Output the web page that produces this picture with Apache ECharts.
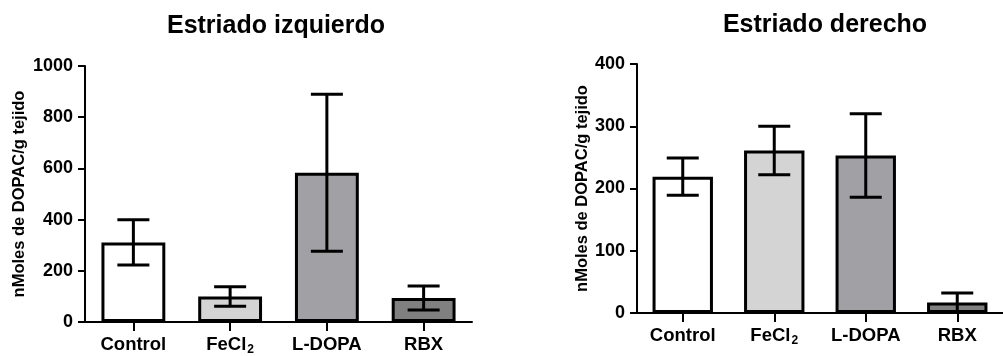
<!DOCTYPE html>
<html>
<head>
<meta charset="utf-8">
<script src="https://cdn.jsdelivr.net/npm/echarts@6/dist/echarts.min.js"></script>
<style>
html,body{margin:0;padding:0;background:#fff;}
#c{width:1003px;height:356px;}
</style>
</head>
<body>
<div id="c"></div>
<script>
// ---- data ----
const categories = ['Control', 'FeCl2', 'L-DOPA', 'RBX'];
const leftTitle = 'Estriado izquierdo';
const rightTitle = 'Estriado derecho';
const yAxisName = 'nMoles de DOPAC/g tejido';
const leftMean = [311, 100, 583, 94];
const leftErr = [88, 38, 307, 47];
const rightMean = [219, 261, 253, 17];
const rightErr = [30, 39, 67, 15];
const barColors = ['#ffffff', '#d4d4d4', '#a1a1a5', '#808080'];
const leftTicks = {min: 0, max: 1000, interval: 200};
const rightTicks = {min: 0, max: 400, interval: 100};

const FONT = '"Liberation Sans", Arial, sans-serif';
const chart = echarts.init(document.getElementById('c'), null, {renderer: 'canvas'});

function catFormatter(v) {
  if (v === 'FeCl2') return '{b|FeCl}{sub|2}';
  return '{b|' + v + '}';
}
const catRich = {
  b: {fontSize: 18.5, fontWeight: 'bold', fontFamily: FONT, color: '#000', lineHeight: 18, verticalAlign: 'top'},
  sub: {fontSize: 12, fontWeight: 'bold', fontFamily: FONT, color: '#000', lineHeight: 12, verticalAlign: 'top', padding: [9, 0, 0, 1]}
};

function xAxis(gridIndex) {
  return {
    type: 'category', gridIndex, data: categories,
    axisLine: {show: true, lineStyle: {color: '#000', width: 2}},
    axisTick: {show: true, interval: 0, alignWithLabel: true, length: 9, lineStyle: {color: '#000', width: 2}},
    axisLabel: {show: true, interval: 0, margin: 13, formatter: catFormatter, rich: catRich, color: '#000'},
    splitLine: {show: false}
  };
}
function yAxis(gridIndex, t, gap) {
  return {
    type: 'value', gridIndex, min: t.min, max: t.max, interval: t.interval,
    name: yAxisName, nameLocation: 'middle', nameGap: gap, nameRotate: 90,
    nameTextStyle: {fontSize: 16.5, fontWeight: 'bold', fontFamily: FONT, color: '#000'},
    axisLine: {show: true, lineStyle: {color: '#000', width: 2}},
    axisTick: {show: true, length: 7, lineStyle: {color: '#000', width: 2}},
    axisLabel: {margin: 12, fontSize: 18, fontWeight: 'bold', fontFamily: FONT, color: '#000',
                formatter: v => String(v)},
    splitLine: {show: false}
  };
}
function bars(mean, idx) {
  return {
    type: 'bar', xAxisIndex: idx, yAxisIndex: idx, barWidth: '66%',
    data: mean.map((v, i) => ({value: v, itemStyle: {color: barColors[i]}})),
    itemStyle: {borderColor: '#000', borderWidth: 3},
    animation: false, z: 2
  };
}
function errBars(mean, err, idx) {
  return {
    type: 'custom', xAxisIndex: idx, yAxisIndex: idx, animation: false, z: 5,
    data: mean.map((v, i) => [i, v - err[i], v + err[i]]),
    renderItem(params, api) {
      const lo = api.coord([api.value(0), api.value(1)]);
      const hi = api.coord([api.value(0), api.value(2)]);
      const hw = 16;
      const st = {stroke: '#000', lineWidth: 3};
      return {type: 'group', children: [
        {type: 'line', shape: {x1: lo[0], y1: hi[1], x2: lo[0], y2: lo[1]}, style: st},
        {type: 'line', shape: {x1: lo[0] - hw, y1: hi[1], x2: lo[0] + hw, y2: hi[1]}, style: st},
        {type: 'line', shape: {x1: lo[0] - hw, y1: lo[1], x2: lo[0] + hw, y2: lo[1]}, style: st}
      ]};
    }
  };
}

chart.setOption({
  backgroundColor: '#fff',
  animation: false,
  title: [
    {text: leftTitle, left: 276, top: 14, textAlign: 'center', padding: 0,
     textStyle: {fontSize: 25, fontWeight: 'bold', fontFamily: FONT, color: '#000'}},
    {text: rightTitle, left: 825, top: 13, textAlign: 'center', padding: 0,
     textStyle: {fontSize: 25, fontWeight: 'bold', fontFamily: FONT, color: '#000'}}
  ],
  grid: [
    {left: 85, top: 66, width: 387, height: 256},
    {left: 637, top: 64, width: 374, height: 249}
  ],
  xAxis: [xAxis(0), xAxis(1)],
  yAxis: [yAxis(0, leftTicks, 57), yAxis(1, rightTicks, 46)],
  series: [
    bars(leftMean, 0), errBars(leftMean, leftErr, 0),
    bars(rightMean, 1), errBars(rightMean, rightErr, 1)
  ]
});
</script>
</body>
</html>
